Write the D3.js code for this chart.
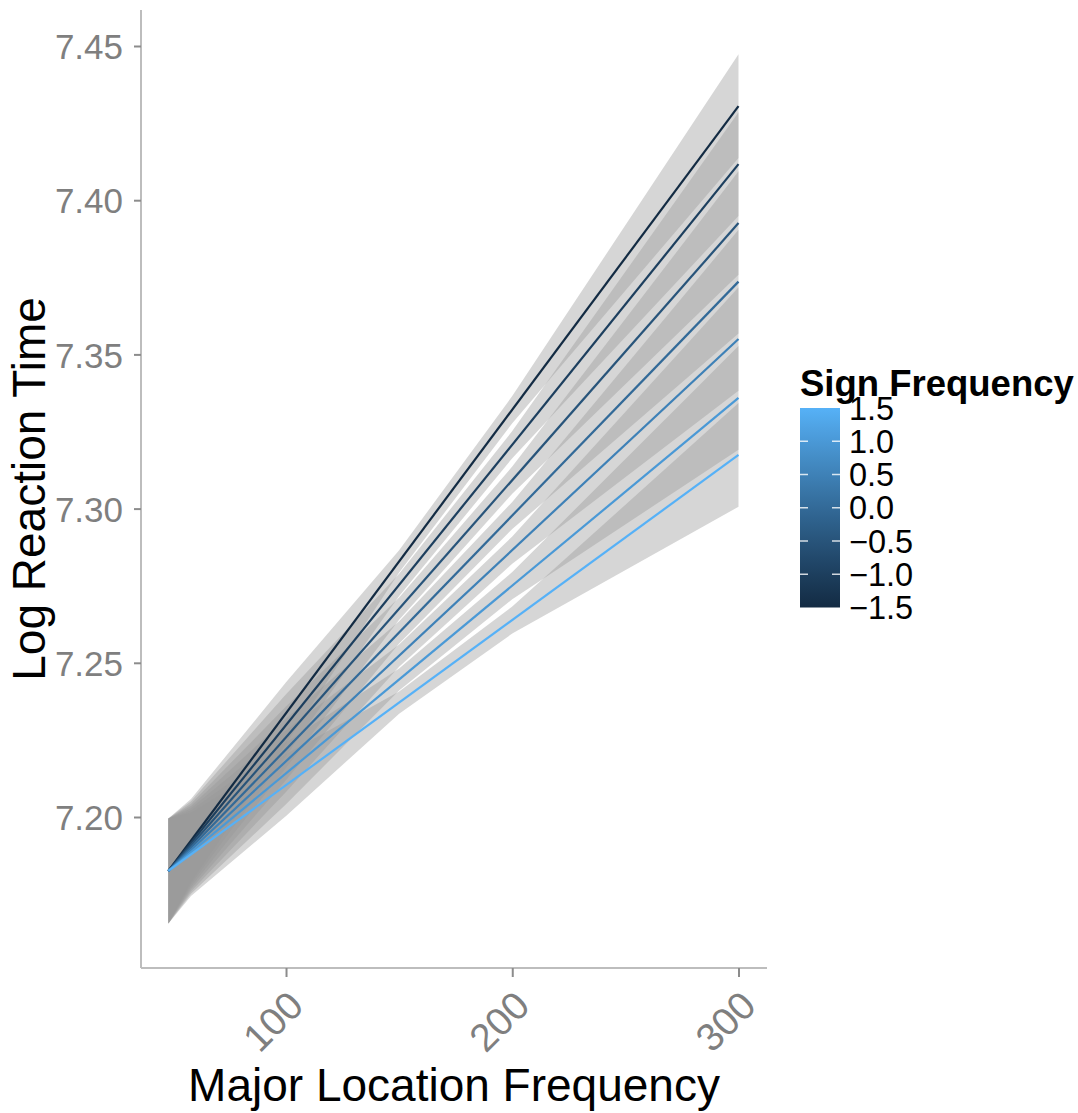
<!DOCTYPE html>
<html>
<head>
<meta charset="utf-8">
<script src="https://cdn.jsdelivr.net/npm/d3@7"></script>
<style>
  body { margin: 0; background: #fff; }
  svg { font-family: "Liberation Sans", Arial, Helvetica, sans-serif; }
</style>
</head>
<body>
<svg></svg>
<script>
let width = 1078;
let height = 1113;

// sign frequency levels (one line each)
let signFreq = [-1.5, -1, -0.5, 0, 0.5, 1, 1.5];
// fitted log RT at the first and last major location frequency
let xStart = 48;
let xEnd = 300;
let fitStart = [7.1825, 7.1825, 7.1825, 7.1825, 7.1825, 7.1825, 7.1825];
let fitEnd = [7.4305, 7.4117, 7.3926, 7.3736, 7.3550, 7.3359, 7.3174];
// confidence band half widths at the points where the band was evaluated
let bandX = [48, 58, 100, 150, 200, 300];
let bandHalf = [0.0170, 0.0135, 0.0100, 0.0036, 0.0044, 0.0168];

let xTicks = [100, 200, 300];
let yTicks = [7.20, 7.25, 7.30, 7.35, 7.40, 7.45];
let legendTicks = [-1.5, -1, -0.5, 0, 0.5, 1, 1.5];

let svg = d3.select("svg").attr("width", width).attr("height", height);

let panelLeft = 141, panelRight = 767, panelTop = 10, panelBottom = 968;

let xScale = d3.scaleLinear().domain([35.9, 312.6]).range([panelLeft, panelRight]);
let yScale = d3.scaleLinear().domain([7.15104, 7.46167]).range([panelBottom, panelTop]);
let colour = d3.scaleLinear().domain([-1.5, 1.5])
    .range(["#132B43", "#56B1F7"]).interpolate(d3.interpolateLab);

let fitAt = (i, x) => fitStart[i] + (fitEnd[i] - fitStart[i]) * (x - xStart) / (xEnd - xStart);

// bands
let area = d3.area()
    .x(d => xScale(d.x))
    .y0(d => yScale(d.lo))
    .y1(d => yScale(d.hi));

let bands = svg.append("g");
signFreq.forEach((s, i) => {
    let pts = bandX.map((x, k) => ({x: x, lo: fitAt(i, x) - bandHalf[k], hi: fitAt(i, x) + bandHalf[k]}));
    bands.append("path")
        .attr("d", area(pts))
        .attr("fill", "#999999")
        .attr("fill-opacity", 0.4);
});

// lines
let lines = svg.append("g");
signFreq.forEach((s, i) => {
    lines.append("line")
        .attr("x1", xScale(xStart)).attr("y1", yScale(fitStart[i]))
        .attr("x2", xScale(xEnd)).attr("y2", yScale(fitEnd[i]))
        .attr("stroke", colour(s))
        .attr("stroke-width", 2.2);
});

// axes
let xAxis = d3.axisBottom(xScale).tickValues(xTicks).tickSize(9).tickPadding(4).tickFormat(d3.format("d"));
let yAxis = d3.axisLeft(yScale).tickValues(yTicks).tickSize(7).tickPadding(11).tickFormat(d3.format(".2f"));

let gx = svg.append("g").attr("transform", "translate(0," + panelBottom + ")").call(xAxis);
let gy = svg.append("g").attr("transform", "translate(" + panelLeft + ",0)").call(yAxis);

[gx, gy].forEach(g => {
    g.select(".domain").attr("stroke", "#BDBDBD").attr("stroke-width", 2);
    g.selectAll(".tick line").attr("stroke", "#8C8C8C").attr("stroke-width", 2);
    g.selectAll(".tick text").attr("fill", "#7F7F7F").attr("font-size", 35)
        .attr("font-family", "Liberation Sans, Arial, sans-serif");
});
gx.select(".domain").attr("d", "M" + panelLeft + ",0H" + panelRight);
gy.select(".domain").attr("d", "M0," + panelTop + "V" + panelBottom);

gx.selectAll(".tick text")
    .attr("font-size", 39)
    .attr("text-anchor", "end")
    .attr("dy", null)
    .attr("y", 0)
    .attr("transform", "translate(19,40) rotate(-45)");

gy.selectAll(".tick text").attr("dy", "0.36em");

// axis titles
svg.append("text")
    .attr("x", (panelLeft + panelRight) / 2).attr("y", 1101)
    .attr("text-anchor", "middle")
    .attr("font-size", 46)
    .text("Major Location Frequency");

svg.append("text")
    .attr("transform", "translate(45," + (panelTop + panelBottom) / 2 + ") rotate(-90)")
    .attr("text-anchor", "middle")
    .attr("font-size", 46)
    .text("Log Reaction Time");

// legend
let legY = d3.scaleLinear().domain([-1.5, 1.5]).range([607.5, 408]);
let defs = svg.append("defs");
let grad = defs.append("linearGradient").attr("id", "cbar")
    .attr("x1", 0).attr("y1", 1).attr("x2", 0).attr("y2", 0);
d3.range(0, 1.0001, 0.05).forEach(t => {
    grad.append("stop").attr("offset", t).attr("stop-color", colour(-1.5 + 3 * t));
});

let leg = svg.append("g");
leg.append("text")
    .attr("x", 800).attr("y", 396)
    .attr("font-size", 36.5).attr("font-weight", "bold")
    .text("Sign Frequency");

leg.append("rect")
    .attr("x", 800).attr("y", legY(1.5))
    .attr("width", 40).attr("height", legY(-1.5) - legY(1.5))
    .attr("fill", "url(#cbar)");

legendTicks.filter(v => Math.abs(v) < 1.5).forEach(v => {
    leg.append("line").attr("x1", 800).attr("x2", 808)
        .attr("y1", legY(v)).attr("y2", legY(v))
        .attr("stroke", "#fff").attr("stroke-opacity", 0.8).attr("stroke-width", 1.5);
    leg.append("line").attr("x1", 832).attr("x2", 840)
        .attr("y1", legY(v)).attr("y2", legY(v))
        .attr("stroke", "#fff").attr("stroke-opacity", 0.8).attr("stroke-width", 1.5);
});

leg.selectAll(".lab").data(legendTicks).enter().append("text")
    .attr("x", 849)
    .attr("y", d => legY(d))
    .attr("dy", "0.36em")
    .attr("font-size", 32.5)
    .text(d => d3.format(".1f")(d).replace("-", "\u2212"));
</script>
</body>
</html>
